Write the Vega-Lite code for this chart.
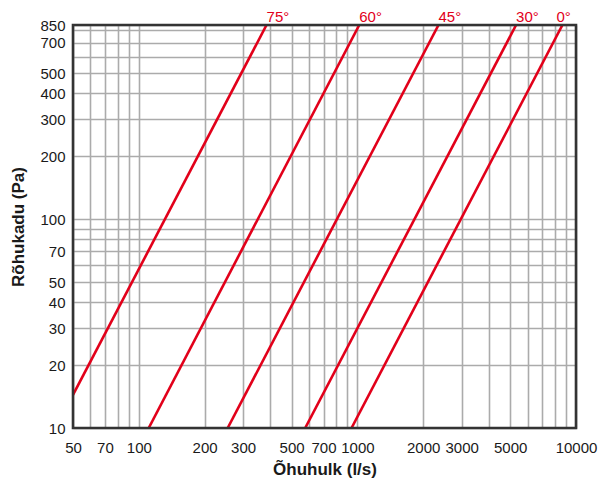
{
  "$schema": "https://vega.github.io/schema/vega-lite/v6.json",
  "width": 503,
  "height": 403,
  "autosize": {"type": "none"},
  "padding": {"left": 73, "top": 25, "right": 24, "bottom": 51},
  "background": "#ffffff",
  "config": {
    "font": "Liberation Sans",
    "view": {"stroke": null},
    "axis": {
      "grid": true,
      "gridColor": "#ababab",
      "gridWidth": 1.6,
      "gridOpacity": 1,
      "ticks": false,
      "domain": false,
      "labelFont": "Liberation Sans",
      "labelFontSize": 15,
      "labelColor": "#1a1a1a",
      "labelOverlap": false,
      "labelFlush": false,
      "titleFont": "Liberation Sans",
      "titleFontSize": 17,
      "titleFontWeight": "bold",
      "titleColor": "#1a1a1a"
    }
  },
  "datasets": {
    "curves": [
      {"angle": "75°", "flow": 50, "pressure": 14.4},
      {"angle": "75°", "flow": 384, "pressure": 850},
      {"angle": "60°", "flow": 111, "pressure": 10},
      {"angle": "60°", "flow": 1020, "pressure": 850},
      {"angle": "45°", "flow": 255, "pressure": 10},
      {"angle": "45°", "flow": 2350, "pressure": 850},
      {"angle": "30°", "flow": 577, "pressure": 10},
      {"angle": "30°", "flow": 5320, "pressure": 850},
      {"angle": "0°", "flow": 940, "pressure": 10},
      {"angle": "0°", "flow": 8670, "pressure": 850}
    ]
  },
  "layer": [
    {
      "data": {"name": "curves"},
      "mark": {"type": "line", "color": "#e2001a", "strokeWidth": 2.6, "clip": true},
      "encoding": {
        "x": {
          "field": "flow",
          "type": "quantitative",
          "scale": {"type": "log", "domain": [50, 10000], "nice": false},
          "axis": {
            "title": "Õhuhulk (l/s)",
            "format": "d",
            "values": [50, 60, 70, 80, 90, 100, 200, 300, 400, 500, 600, 700, 800, 900, 1000, 2000, 3000, 4000, 5000, 6000, 7000, 8000, 9000, 10000],
            "labelExpr": "indexof([50, 70, 100, 200, 300, 500, 700, 1000, 2000, 3000, 5000, 10000], datum.value) >= 0 ? datum.label : ''",
            "labelPadding": 12,
            "titlePadding": 6
          }
        },
        "y": {
          "field": "pressure",
          "type": "quantitative",
          "scale": {"type": "log", "domain": [10, 850], "nice": false},
          "axis": {
            "title": "Rõhukadu (Pa)",
            "format": "d",
            "values": [10, 20, 30, 40, 50, 60, 70, 80, 90, 100, 200, 300, 400, 500, 600, 700, 800, 850],
            "labelExpr": "indexof([10, 20, 30, 40, 50, 70, 100, 200, 300, 400, 500, 700, 850], datum.value) >= 0 ? datum.label : ''",
            "labelPadding": 8,
            "titlePadding": 12
          }
        },
        "detail": {"field": "angle"}
      }
    },
    {
      "data": {"name": "curves"},
      "transform": [{"filter": "datum.pressure == 850 && datum.angle != '0°'"}],
      "mark": {"type": "text", "align": "left", "baseline": "alphabetic", "dy": -3, "fontSize": 15, "color": "#e2001a"},
      "encoding": {
        "x": {"field": "flow", "type": "quantitative"},
        "y": {"field": "pressure", "type": "quantitative"},
        "text": {"field": "angle"}
      }
    },
    {
      "data": {"name": "curves"},
      "transform": [{"filter": "datum.pressure == 850 && datum.angle == '0°'"}],
      "mark": {"type": "text", "align": "left", "baseline": "alphabetic", "dx": -6, "dy": -3, "fontSize": 15, "color": "#e2001a"},
      "encoding": {
        "x": {"field": "flow", "type": "quantitative"},
        "y": {"field": "pressure", "type": "quantitative"},
        "text": {"field": "angle"}
      }
    },
    {
      "data": {"values": [{"x0": 50, "x1": 10000, "y0": 10, "y1": 850}]},
      "mark": {"type": "rect", "fill": null, "fillOpacity": 0, "stroke": "#333333", "strokeWidth": 2.6},
      "encoding": {
        "x": {"field": "x0", "type": "quantitative"},
        "x2": {"field": "x1"},
        "y": {"field": "y0", "type": "quantitative"},
        "y2": {"field": "y1"}
      }
    }
  ]
}
